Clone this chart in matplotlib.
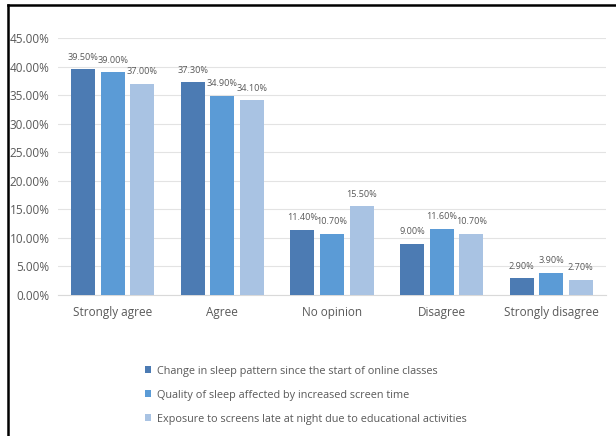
import numpy as np
import matplotlib.pyplot as plt
from matplotlib.lines import Line2D

# datos
categorias = ["Strongly agree", "Agree", "No opinion", "Disagree", "Strongly disagree"]
cambio_patron = [39.5, 37.3, 11.4, 9.0, 2.9]
calidad_sueno = [39.0, 34.9, 10.7, 11.6, 3.9]
exposicion_pantallas = [37.0, 34.1, 15.5, 10.7, 2.7]
series = ["Change in sleep pattern since the start of online classes",
          "Quality of sleep affected by increased screen time",
          "Exposure to screens late at night due to educational activities"]

colores = ["#4c7bb3", "#5b9bd6", "#a9c3e3"]
gris = "#595959"

plt.rcParams['font.family'] = ['Open Sans', 'DejaVu Sans']

fig = plt.figure(figsize=(6.16, 4.36), dpi=100)
ax = fig.add_axes([58 / 616, 1 - 295 / 436, 548 / 616, 257 / 436])

x = np.arange(len(categorias))
w = 0.22
paso = 0.27
valores = [cambio_patron, calidad_sueno, exposicion_pantallas]
for i, (vals, col, nombre) in enumerate(zip(valores, colores, series)):
    pos = x + (i - 1) * paso
    ax.bar(pos, vals, width=w, color=col, label=nombre, zorder=3)
    for p, v in zip(pos, vals):
        ax.text(p, v + 1.3, f"{v:.2f}%", ha='center', va='bottom', fontsize=6.6, color=gris)

ax.set_xlim(-0.5, len(categorias) - 0.5)
ax.set_ylim(0, 45)
ax.set_yticks(np.arange(0, 46, 5))
ax.set_yticklabels([f"{t:.2f}%" for t in np.arange(0, 46, 5)])
ax.set_xticks(x)
ax.set_xticklabels(categorias)
ax.tick_params(axis='both', length=0, colors=gris, labelsize=8.5)
ax.tick_params(axis='x', pad=8)
ax.tick_params(axis='y', pad=6)
ax.grid(axis='y', color="#e3e3e3", linewidth=0.8, zorder=0)
for s in ['top', 'right', 'left']:
    ax.spines[s].set_visible(False)
ax.spines['bottom'].set_color("#d9d9d9")

fig.legend(loc='upper left', bbox_to_anchor=(135 / 616, 1 - 356 / 436), frameon=False,
           fontsize=7.8, labelcolor=gris, handlelength=0.6, handleheight=0.6,
           handletextpad=0.5, labelspacing=1.2)

# marco de la imagen
fig.add_artist(Line2D([8 / 616, 8 / 616], [0, 1 - 5 / 436], color='black', linewidth=1.8))
fig.add_artist(Line2D([8 / 616, 1], [1 - 5 / 436, 1 - 5 / 436], color='black', linewidth=1.8))

fig.savefig("out.png", dpi=100)
